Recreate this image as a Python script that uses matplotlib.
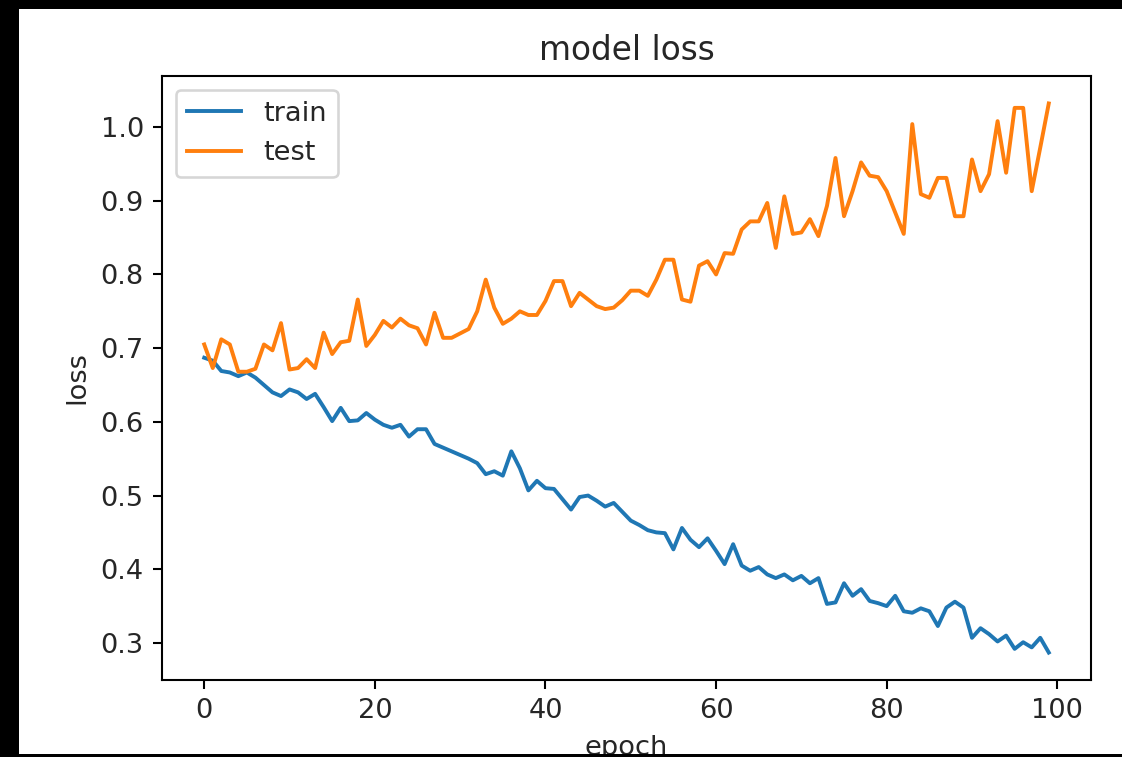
import matplotlib
matplotlib.use("Agg")
import matplotlib.pyplot as plt
from matplotlib.patches import Rectangle

# Per-epoch loss history
train_loss = [
    0.687, 0.683, 0.669, 0.667, 0.662, 0.667, 0.660, 0.650, 0.640, 0.635,
    0.644, 0.640, 0.631, 0.638, 0.620, 0.601, 0.619, 0.601, 0.602, 0.612,
    0.603, 0.596, 0.592, 0.596, 0.580, 0.590, 0.590, 0.570, 0.565, 0.560,
    0.555, 0.550, 0.544, 0.529, 0.533, 0.527, 0.560, 0.537, 0.507, 0.520,
    0.510, 0.509, 0.495, 0.481, 0.498, 0.500, 0.493, 0.485, 0.490, 0.478,
    0.466, 0.460, 0.453, 0.450, 0.449, 0.427, 0.456, 0.440, 0.430, 0.442,
    0.425, 0.407, 0.434, 0.405, 0.398, 0.403, 0.393, 0.388, 0.393, 0.385,
    0.391, 0.381, 0.388, 0.353, 0.355, 0.381, 0.364, 0.373, 0.357, 0.354,
    0.350, 0.364, 0.343, 0.341, 0.347, 0.343, 0.323, 0.348, 0.356, 0.348,
    0.307, 0.320, 0.312, 0.302, 0.310, 0.292, 0.301, 0.294, 0.307, 0.287,
]
test_loss = [
    0.705, 0.673, 0.712, 0.705, 0.668, 0.668, 0.672, 0.705, 0.697, 0.734,
    0.671, 0.673, 0.685, 0.673, 0.721, 0.692, 0.708, 0.710, 0.766, 0.703,
    0.718, 0.737, 0.728, 0.740, 0.731, 0.727, 0.705, 0.748, 0.714, 0.714,
    0.720, 0.726, 0.750, 0.793, 0.755, 0.733, 0.740, 0.750, 0.745, 0.745,
    0.764, 0.791, 0.791, 0.757, 0.775, 0.766, 0.757, 0.753, 0.755, 0.765,
    0.778, 0.778, 0.771, 0.793, 0.820, 0.820, 0.766, 0.763, 0.812, 0.818,
    0.800, 0.829, 0.828, 0.861, 0.872, 0.872, 0.897, 0.836, 0.906, 0.855,
    0.857, 0.875, 0.852, 0.893, 0.958, 0.879, 0.913, 0.952, 0.934, 0.932,
    0.913, 0.884, 0.855, 1.004, 0.909, 0.904, 0.931, 0.931, 0.879, 0.879,
    0.956, 0.913, 0.936, 1.008, 0.938, 1.026, 1.026, 0.913, 0.972, 1.032,
]
series_labels = ["train", "test"]

plt.rcParams["font.size"] = 10.5
plt.rcParams["text.color"] = "#262626"
plt.rcParams["xtick.labelcolor"] = "#262626"
plt.rcParams["ytick.labelcolor"] = "#262626"
plt.rcParams["axes.labelcolor"] = "#262626"

W, H = 1122, 757
DPI = 187.2
fig = plt.figure(figsize=(W / DPI, H / DPI), dpi=DPI, facecolor="white")

# axes box in pixel coordinates (left, top, right, bottom)
ax_l, ax_t, ax_r, ax_b = 162, 76, 1091, 680
ax = fig.add_axes([ax_l / W, 1 - ax_b / H, (ax_r - ax_l) / W, (ax_b - ax_t) / H])

ax.plot(train_loss, label=series_labels[0])
ax.plot(test_loss, label=series_labels[1])
ax.set_title("model loss", fontsize=12.6)
ax.set_ylabel("loss")
ax.set_xlabel("epoch")
ax.legend(loc="upper left")

# dark frame around the canvas
frame = dict(facecolor="black", edgecolor="none", zorder=100,
             transform=fig.transFigure, figure=fig)
fig.patches.append(Rectangle((0, 0), 19 / W, 1, **frame))
fig.patches.append(Rectangle((0, 1 - 9 / H), 1, 9 / H, **frame))
fig.patches.append(Rectangle((0, 0), 1, 3 / H, **frame))

fig.savefig("out.png", dpi=DPI, facecolor=fig.get_facecolor())
